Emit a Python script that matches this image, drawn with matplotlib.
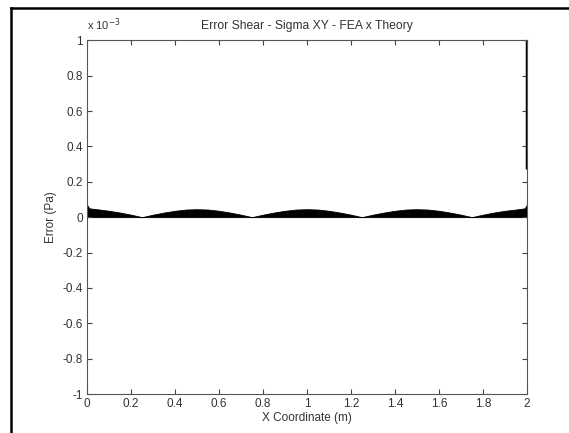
import matplotlib
matplotlib.use("Agg")
import matplotlib.pyplot as plt
from matplotlib.lines import Line2D
from matplotlib.ticker import FuncFormatter

plt.rcParams["font.family"] = ["Liberation Sans", "DejaVu Sans"]

# error envelope, in units of 1e-3 Pa
x_coord = [0.00, 0.01, 0.05, 0.10, 0.15, 0.20, 0.25, 0.30, 0.35, 0.40, 0.45,
           0.50, 0.55, 0.60, 0.65, 0.70, 0.75, 0.80, 0.85, 0.90, 0.95,
           1.00, 1.05, 1.10, 1.15, 1.20, 1.25, 1.30, 1.35, 1.40, 1.45,
           1.50, 1.55, 1.60, 1.65, 1.70, 1.75, 1.80, 1.85, 1.90, 1.95,
           1.99, 2.00]
err = [0.070, 0.050, 0.044, 0.036, 0.026, 0.014, 0.000, 0.014, 0.026, 0.036, 0.043,
       0.045, 0.043, 0.036, 0.026, 0.014, 0.000, 0.014, 0.026, 0.036, 0.043,
       0.045, 0.043, 0.036, 0.026, 0.014, 0.000, 0.014, 0.026, 0.036, 0.043,
       0.045, 0.043, 0.036, 0.026, 0.014, 0.000, 0.014, 0.026, 0.036, 0.043,
       0.050, 0.070]
# jump at the right end
edge_x = [2.0, 2.0]
edge_err = [0.27, 1.05]

xticks = [0, 0.2, 0.4, 0.6, 0.8, 1.0, 1.2, 1.4, 1.6, 1.8, 2.0]
yticks = [-1, -0.8, -0.6, -0.4, -0.2, 0, 0.2, 0.4, 0.6, 0.8, 1]

fig = plt.figure(figsize=(5.69, 4.33), dpi=100)
ax = fig.add_axes([0.153, 0.09, 0.773, 0.817])

ax.fill_between(x_coord, 0, err, color="black", linewidth=0.6, edgecolor="black")
ax.plot(edge_x, edge_err, color="black", linewidth=2.5, solid_capstyle="butt")

ax.set_xlim(0, 2)
ax.set_ylim(-1, 1)
ax.set_xticks(xticks)
ax.set_yticks(yticks)
fmt = FuncFormatter(lambda v, p: f"{v:g}")
ax.xaxis.set_major_formatter(fmt)
ax.yaxis.set_major_formatter(fmt)
ax.tick_params(direction="in", length=3.5, width=0.8, top=True, right=True,
               labelsize=8.5, colors="#444444", labelcolor="#333333", pad=3)
for s in ax.spines.values():
    s.set_color("#555555")
    s.set_linewidth(0.8)

ax.set_title("Error Shear - Sigma XY - FEA x Theory", fontsize=8.7, color="#333333", pad=8)
ax.set_xlabel("X Coordinate (m)", fontsize=8.5, color="#333333", labelpad=1)
ax.set_ylabel("Error (Pa)", fontsize=8.5, color="#333333", labelpad=4)
ax.text(0.0, 1.02, r"x 10$^{-3}$", transform=ax.transAxes, fontsize=8,
        color="#333333", ha="left", va="bottom")

# outer frame of the screenshot
fig.add_artist(Line2D([11 / 569, 11 / 569], [0.0, 1 - 8 / 433],
                      transform=fig.transFigure, color="black", linewidth=1.8))
fig.add_artist(Line2D([11 / 569, 1.0], [1 - 8 / 433, 1 - 8 / 433],
                      transform=fig.transFigure, color="black", linewidth=1.8))

fig.savefig("out.png", dpi=100)
